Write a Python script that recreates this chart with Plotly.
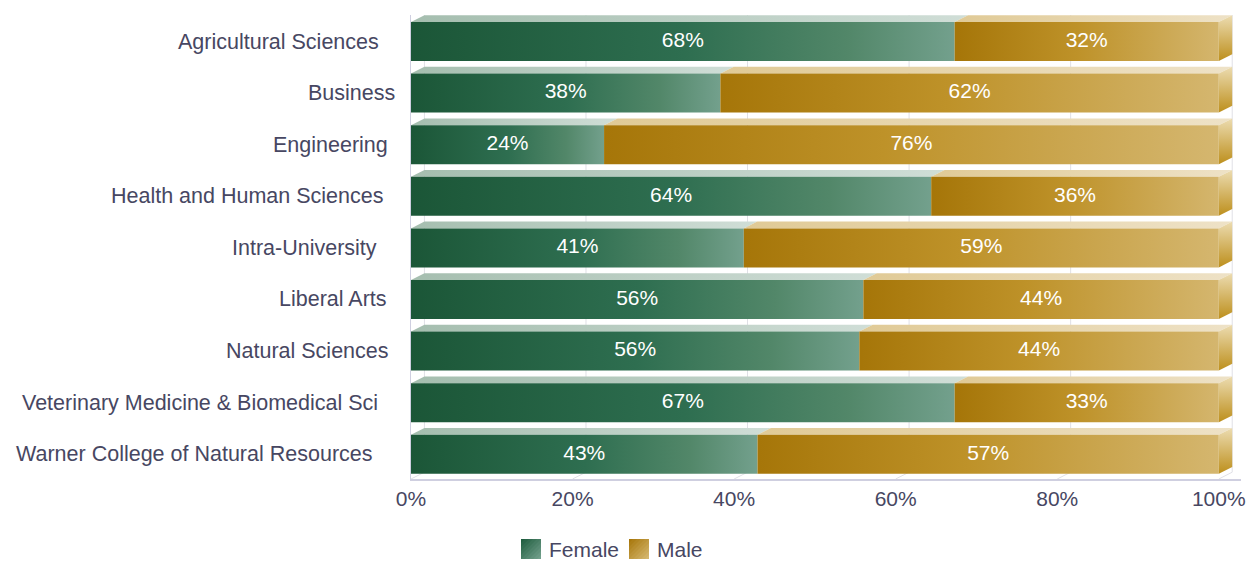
import plotly.graph_objects as go

# ---------------- data ----------------
categories = [
    "Agricultural Sciences",
    "Business",
    "Engineering",
    "Health and Human Sciences",
    "Intra-University",
    "Liberal Arts",
    "Natural Sciences",
    "Veterinary Medicine & Biomedical Sci",
    "Warner College of Natural Resources",
]
female_share = [67.3, 38.3, 23.9, 64.4, 41.2, 56.0, 55.5, 67.3, 42.9]
male_share = [32.7, 61.7, 76.1, 35.6, 58.8, 44.0, 44.5, 32.7, 57.1]
female_labels = ["68%", "38%", "24%", "64%", "41%", "56%", "56%", "67%", "43%"]
male_labels = ["32%", "62%", "76%", "36%", "59%", "44%", "44%", "33%", "57%"]
series_names = ["Female", "Male"]
x_ticks = [0, 20, 40, 60, 80, 100]
x_tick_labels = ["0%", "20%", "40%", "60%", "80%", "100%"]

# ---------------- style ----------------
FONT = "Arial, Liberation Sans, sans-serif"
TXT = "#474762"
X_MAX = 102.75
PXX = 835 / X_MAX   # px per x unit
PXY = 51.6          # px per row
DX = 13.5 / PXX     # 3d depth in x units
DY = 6.8 / PXY      # 3d depth in row units
H = 0.378           # half bar thickness
label_right_px = [381, 397, 390, 386, 379, 389, 391, 380, 375]
PLOT_LEFT = 411

F_FRONT = [[0, "#1b5637"], [0.5, "#2e6e50"], [0.8, "#528769"], [1, "#74a18e"]]
M_FRONT = [[0, "#a67609"], [0.45, "#be9229"], [1, "#d5b770"]]
F_TOP = [[0, "#a5beaf"], [1, "#d0ded7"]]
M_TOP = [[0, "#e0ca96"], [1, "#eee2c7"]]
M_SIDE = [[0, "#bd8f1c"], [1, "#ecdcb1"]]

n = len(categories)
fig = go.Figure()


def poly(pts, cs, gtype, start, stop):
    xs = [p[0] for p in pts] + [pts[0][0]]
    ys = [p[1] for p in pts] + [pts[0][1]]
    fig.add_trace(go.Scatter(
        x=xs, y=ys, mode="lines", fill="toself", line=dict(width=0),
        fillgradient=dict(type=gtype, colorscale=cs, start=start, stop=stop),
        hoverinfo="skip", showlegend=False))


for i in range(n):
    y = n - 1 - i
    f = female_share[i]
    m = male_share[i]
    x0, x1, x2 = 0, f, f + m
    # top faces
    poly([(x0, y + H), (x1, y + H), (x1 + DX, y + H + DY), (x0 + DX, y + H + DY)],
         F_TOP, "horizontal", x0, x1 + DX)
    poly([(x1, y + H), (x2, y + H), (x2 + DX, y + H + DY), (x1 + DX, y + H + DY)],
         M_TOP, "horizontal", x1, x2 + DX)
    # front faces
    poly([(x0, y - H), (x1, y - H), (x1, y + H), (x0, y + H)],
         F_FRONT, "horizontal", x0, x1)
    poly([(x1, y - H), (x2, y - H), (x2, y + H), (x1, y + H)],
         M_FRONT, "horizontal", x1, x2)
    # right side face
    poly([(x2, y - H), (x2 + DX, y - H + DY), (x2 + DX, y + H + DY), (x2, y + H)],
         M_SIDE, "vertical", y - H, y + H + DY)

# value labels
rows = [n - 1 - i for i in range(n)]
fig.add_trace(go.Scatter(
    x=[f / 2 for f in female_share] + [f + m / 2 for f, m in zip(female_share, male_share)],
    y=rows + rows, mode="text", text=female_labels + male_labels,
    textfont=dict(family=FONT, size=21, color="white"),
    hoverinfo="skip", showlegend=False))

y_bottom = -0.479
y_top = 8.5136
shapes = []
# back wall grid lines and floor diagonals
for t in x_ticks:
    shapes.append(dict(type="line", xref="x", yref="y", x0=t + DX, x1=t + DX,
                       y0=y_bottom + DY, y1=y_top, layer="below",
                       line=dict(color="#e0e0e6", width=1)))
    shapes.append(dict(type="line", xref="x", yref="y", x0=t, x1=t + DX,
                       y0=y_bottom, y1=y_bottom + DY, layer="below",
                       line=dict(color="#e0e0e6", width=1)))


# legend squares with diagonal gradient (drawn as bands)
def mix(c1, c2, t):
    a = [int(c1[k:k + 2], 16) for k in (1, 3, 5)]
    b = [int(c2[k:k + 2], 16) for k in (1, 3, 5)]
    return "#%02x%02x%02x" % tuple(round(a[j] + (b[j] - a[j]) * t) for j in range(3))


def legend_square(xl, ytop_px, s, c1, c2, nb=10):
    # pixel offsets relative to paper (0,0); y positive upward
    for k in range(nb):
        c = 2 * s * k / nb
        if c <= s:
            pts = [(c, 0), (s, 0), (s, s), (0, s), (0, c)]
        else:
            pts = [(s, c - s), (s, s), (c - s, s)]
        path = "M" + " L".join("%.2f,%.2f" % (xl + u, ytop_px - v) for u, v in pts) + " Z"
        shapes.append(dict(type="path", xref="paper", yref="paper",
                           xsizemode="pixel", ysizemode="pixel", xanchor=0, yanchor=0,
                           path=path, fillcolor=mix(c1, c2, (k + 0.5) / nb),
                           line=dict(width=0)))


legend_square(521 - PLOT_LEFT, -(539 - 479), 20, "#1d5a3c", "#76a390")
legend_square(629 - PLOT_LEFT, -(539 - 479), 20, "#a57508", "#d8ba74")

annotations = []
for i, c in enumerate(categories):
    annotations.append(dict(text=c, xref="paper", yref="y", x=0, y=n - 1 - i,
                            xanchor="right", yanchor="middle",
                            xshift=label_right_px[i] - PLOT_LEFT, showarrow=False,
                            font=dict(family=FONT, size=21.5, color=TXT)))
for name, px in zip(series_names, [548, 656]):
    annotations.append(dict(text=name, xref="paper", yref="paper", x=0, y=0,
                            xanchor="left", yanchor="middle",
                            xshift=px - PLOT_LEFT - 1, yshift=-(549 - 479),
                            showarrow=False,
                            font=dict(family=FONT, size=21, color=TXT)))

fig.update_layout(
    width=1255, height=562,
    margin=dict(l=PLOT_LEFT, r=9, t=15, b=83),
    paper_bgcolor="white", plot_bgcolor="white",
    showlegend=False,
    shapes=shapes, annotations=annotations,
    xaxis=dict(range=[0, X_MAX], tickmode="array", tickvals=x_ticks,
               ticktext=x_tick_labels,
               showgrid=False, zeroline=False, showline=True,
               linecolor="#cfcfe0", linewidth=2, ticks="",
               tickfont=dict(family=FONT, size=21, color=TXT), fixedrange=True),
    yaxis=dict(range=[y_bottom, y_top], showticklabels=False, showgrid=False,
               zeroline=False, showline=True, linecolor="#cfcfe0", linewidth=1,
               ticks="", fixedrange=True),
)

fig.write_html("out.html", config={"displayModeBar": False},
               post_script="document.body.style.margin='0';document.body.style.padding='0';")
